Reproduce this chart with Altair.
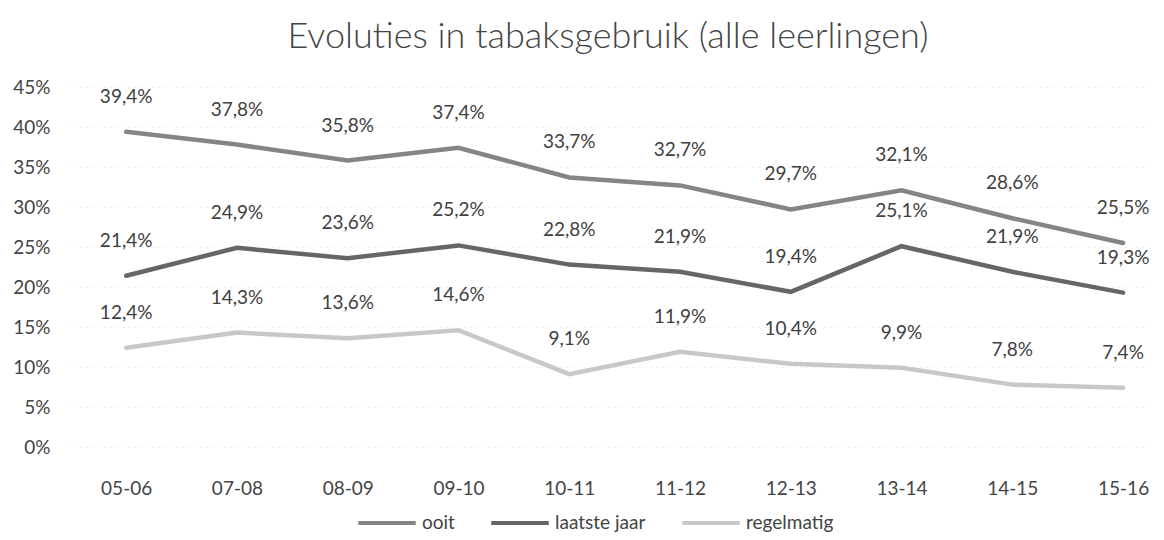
import altair as alt
import pandas as pd

categories = ["05-06", "07-08", "08-09", "09-10", "10-11", "11-12", "12-13", "13-14", "14-15", "15-16"]
series = ["ooit", "laatste jaar", "regelmatig"]
ooit = [39.4, 37.8, 35.8, 37.4, 33.7, 32.7, 29.7, 32.1, 28.6, 25.5]
laatste_jaar = [21.4, 24.9, 23.6, 25.2, 22.8, 21.9, 19.4, 25.1, 21.9, 19.3]
regelmatig = [12.4, 14.3, 13.6, 14.6, 9.1, 11.9, 10.4, 9.9, 7.8, 7.4]
y_ticks = [0, 5, 10, 15, 20, 25, 30, 35, 40, 45]
colors = ["#858585", "#666666", "#c8c8c8"]

rows = []
for name, vals in zip(series, [ooit, laatste_jaar, regelmatig]):
    for c, v in zip(categories, vals):
        rows.append({"jaar": c, "reeks": name, "waarde": v})
df = pd.DataFrame(rows)

FONT = "Lato"

x = alt.X(
    "jaar:N",
    sort=categories,
    scale=alt.Scale(type="point", padding=0.375, align=0.7),
    axis=alt.Axis(
        title=None, labelAngle=0, domain=False, ticks=False, grid=False,
        labelPadding=32, labelFontSize=19, labelColor="#444444", labelFont=FONT,
    ),
)
y = alt.Y(
    "waarde:Q",
    scale=alt.Scale(domain=[0, 45], nice=False),
    axis=alt.Axis(
        title=None, values=y_ticks, labelExpr="datum.value + '%'",
        domain=False, ticks=False, gridColor="#ececec", gridDash=[2, 4],
        labelPadding=18, labelFontSize=19, labelColor="#444444", labelFont=FONT,
    ),
)

color = alt.Color(
    "reeks:N",
    scale=alt.Scale(domain=series, range=colors),
    legend=alt.Legend(
        title=None, orient="none", direction="horizontal",
        legendX=288, legendY=405,
        symbolType="stroke", symbolStrokeWidth=4, symbolSize=3300,
        labelFontSize=19, labelColor="#444444", labelFont=FONT,
        columnPadding=28, labelOffset=4,
    ),
)

lines = alt.Chart(df).mark_line(strokeWidth=4.5, strokeCap="round").encode(
    x=x, y=y, color=color,
    order=alt.Order("reeks:N"),
)

labels = alt.Chart(df).transform_calculate(
    lbl="replace(format(datum.waarde, '.1f'), '.', ',') + '%'"
).mark_text(
    dy=-35, fontSize=19, font=FONT, color="#404040"
).encode(
    x=x, y=y, text="lbl:N",
)

chart = alt.layer(lines, labels).properties(
    width=1080,
    height=360,
    padding={"left": 4, "top": 11, "right": 0, "bottom": 0},
    title=alt.TitleParams(
        "Evoluties in tabaksgebruik (alle leerlingen)",
        fontSize=36, font=FONT, fontWeight=300, color="#444444", offset=22,
    ),
).configure_view(stroke=None)

chart.save("out.html", embed_options={"renderer": "svg", "actions": False})
